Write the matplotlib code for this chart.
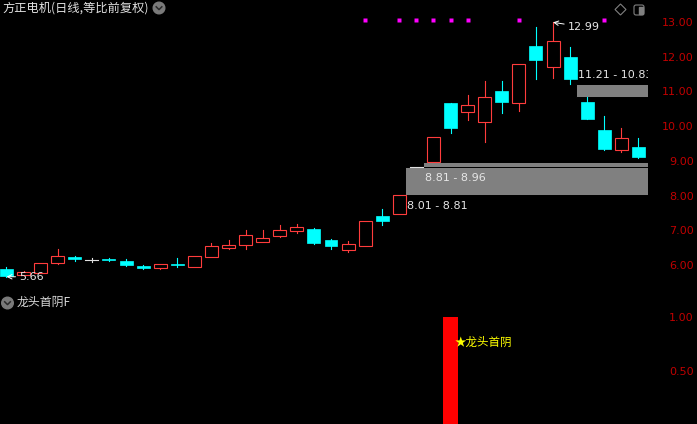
import matplotlib
matplotlib.use('agg')
import matplotlib.pyplot as plt
import matplotlib.transforms as mtransforms
from matplotlib.patches import Rectangle, Circle, Polygon, FancyBboxPatch

plt.rcParams['font.family'] = ['Noto Sans CJK SC', 'DejaVu Sans']

# daily bars (前复权)
opens  = [5.87, 5.72, 5.78, 6.05, 6.23, 6.13, 6.16, 6.11, 5.97, 5.90,
          6.02, 5.95, 6.24, 6.50, 6.57, 6.67, 6.84, 6.99, 7.03, 6.72,
          6.43, 6.55, 7.41, 7.46, 8.81, 8.96, 10.66, 10.41, 10.13, 11.01,
          10.67, 12.31, 11.69, 11.99, 10.69, 9.89, 9.31, 9.40]
highs  = [5.93, 5.82, 6.05, 6.45, 6.26, 6.21, 6.20, 6.17, 6.01, 6.03,
          6.20, 6.26, 6.62, 6.72, 7.01, 7.01, 7.15, 7.18, 7.06, 6.76,
          6.69, 7.27, 7.61, 8.01, 8.81, 9.68, 10.66, 10.90, 11.30, 11.30,
          11.78, 12.86, 12.99, 12.29, 10.83, 10.29, 9.95, 9.65]
lows   = [5.66, 5.72, 5.76, 6.02, 6.12, 6.08, 6.12, 5.98, 5.87, 5.89,
          5.95, 5.95, 6.24, 6.47, 6.46, 6.67, 6.81, 6.92, 6.59, 6.46,
          6.37, 6.55, 7.16, 7.46, 8.81, 8.96, 9.81, 10.18, 9.55, 10.39,
          10.44, 11.37, 11.39, 11.21, 10.21, 9.31, 9.26, 9.08]
closes = [5.69, 5.79, 6.05, 6.26, 6.17, 6.13, 6.15, 6.00, 5.91, 6.03,
          6.01, 6.26, 6.54, 6.57, 6.86, 6.77, 7.01, 7.09, 6.64, 6.55,
          6.60, 7.27, 7.27, 8.01, 8.81, 9.68, 9.95, 10.60, 10.83, 10.69,
          11.78, 11.90, 12.44, 11.37, 10.21, 9.34, 9.65, 9.11]

# 缺口
gap_days   = [23, 24, 33]
gap_lows   = [8.01, 8.81, 10.83]
gap_highs  = [8.81, 8.96, 11.21]
gap_labels = ['8.01 - 8.81', '8.81 - 8.96', '11.21 - 10.83']
gap_up     = [True, True, False]

dot_days = [21, 23, 24, 25, 26, 27, 30, 35]   # 顶部标记点

signal_days = [26]      # 龙头首阴
signal_vals = [1.0]

price_ticks = [6, 7, 8, 9, 10, 11, 12, 13]
signal_ticks = [0.5, 1.0]

W, H = 697, 424
RED = '#ff3c3c'
CYAN = '#00ffff'
AXIS_RED = '#c00000'
TXT = '#e6e6e6'


def px_rect(x0, y0, x1, y1):
    return [x0 / W, 1 - y1 / H, (x1 - x0) / W, (y1 - y0) / H]


fig = plt.figure(figsize=(W / 100, H / 100), dpi=100, facecolor='black')
ax = fig.add_axes(px_rect(0, 14, 648, 290))
ax2 = fig.add_axes(px_rect(0, 296, 648, 424))

for a in (ax, ax2):
    a.set_facecolor('black')
    for s in a.spines.values():
        s.set_visible(False)
    a.set_xticks([])
    a.set_xlim(-0.38, 37.56)
    a.yaxis.tick_right()
    a.tick_params(axis='y', length=0, pad=33, labelsize=8, labelcolor=AXIS_RED)

ax.set_ylim(5.279, 13.23)
ax2.set_ylim(0, 1.2)

ax.set_yticks(price_ticks)
ax.set_yticklabels(['%.2f' % v for v in price_ticks], family='DejaVu Sans')
ax2.set_yticks(signal_ticks)
ax2.set_yticklabels(['%.2f' % v for v in signal_ticks], family='DejaVu Sans')
for a in (ax, ax2):
    for lab in a.get_yticklabels():
        lab.set_horizontalalignment('right')

# candles
bw = 0.76
for i, (o, h, l, c) in enumerate(zip(opens, highs, lows, closes)):
    if c > o:
        ax.plot([i, i], [c, h], color=RED, lw=0.8, zorder=3)
        ax.plot([i, i], [l, o], color=RED, lw=0.8, zorder=3)
        ax.add_patch(Rectangle((i - bw / 2, o), bw, c - o, facecolor='black',
                               edgecolor=RED, lw=0.8, zorder=3))
    elif c < o:
        ax.plot([i, i], [l, h], color=CYAN, lw=0.8, zorder=3)
        ax.add_patch(Rectangle((i - bw / 2, c), bw, o - c, facecolor=CYAN,
                               edgecolor=CYAN, lw=0.5, zorder=3))
    else:
        ax.plot([i, i], [l, h], color='#e0e0e0', lw=0.8, zorder=3)
        ax.plot([i - bw / 2, i + bw / 2], [o, o], color='#e0e0e0', lw=0.8, zorder=4)

# gaps
for d, lo, hi, lab, up in zip(gap_days, gap_lows, gap_highs, gap_labels, gap_up):
    ax.add_patch(Rectangle((d + 0.36, lo), 40, hi - lo, facecolor='#808080',
                           edgecolor='black', lw=0.7, zorder=2))
    if up:
        tr = mtransforms.offset_copy(ax.transData, fig=fig, x=2, y=-11, units='dots')
        ax.text(d + 0.36, lo, lab, transform=tr, color=TXT, fontsize=8,
                family='DejaVu Sans', va='center', ha='left', zorder=5, clip_on=True)
    else:
        tr = mtransforms.offset_copy(ax.transData, fig=fig, x=2, y=9, units='dots')
        ax.text(d + 0.36, hi, lab, transform=tr, color=TXT, fontsize=8,
                family='DejaVu Sans', va='center', ha='left', zorder=5, clip_on=True)

# high / low marks
hi_i = highs.index(max(highs))
lo_i = lows.index(min(lows))
ax.annotate('%.2f' % highs[hi_i], xy=(hi_i, highs[hi_i]), xytext=(11, -3.5),
            textcoords='offset points', color=TXT, fontsize=8, family='DejaVu Sans',
            va='center', ha='left',
            arrowprops=dict(arrowstyle='->', color='white', lw=0.7,
                            shrinkA=1, shrinkB=0))
ax.annotate('%.2f' % lows[lo_i], xy=(lo_i, lows[lo_i]), xytext=(9.5, 0),
            textcoords='offset points', color=TXT, fontsize=8, family='DejaVu Sans',
            va='center', ha='left',
            arrowprops=dict(arrowstyle='->', color='white', lw=0.7,
                            shrinkA=1, shrinkB=0))

# top dots
ax.plot(dot_days, [0.978] * len(dot_days), 's', color='#ff00ff', ms=2.2,
        mec='none', transform=ax.get_xaxis_transform(), clip_on=False)

# indicator panel
ax2.bar(signal_days, signal_vals, width=0.86, color='#ff0000', zorder=2)
for d, v in zip(signal_days, signal_vals):
    ax2.text(d + 0.26, v * 0.77, '★龙头首阴', color='#ffff00', fontsize=8.3,
             va='center', ha='left', zorder=3)

# header decorations (pixel coords)
deco = fig.add_axes([0, 0, 1, 1])
deco.set_xlim(0, W)
deco.set_ylim(H, 0)
deco.axis('off')
deco.patch.set_visible(False)

deco.text(2, 8.5, '方正电机(日线,等比前复权)', color='#e0e0e0', fontsize=8.8,
          va='center', ha='left')
deco.text(17, 302.5, '龙头首阴F', color='#d8d8d8', fontsize=8.6,
          va='center', ha='left')

for cx, cy in [(159, 8), (7.5, 303)]:
    deco.add_patch(Circle((cx, cy), 5.8, color='#7a7a7a'))
    deco.plot([cx - 2.8, cx, cx + 2.8], [cy - 1.2, cy + 1.6, cy - 1.2],
              color='#2a2a2a', lw=1.1)

deco.add_patch(Polygon([(620.5, 4), (626, 9.5), (620.5, 15), (615, 9.5)],
                       closed=True, fill=False, edgecolor='#808080', lw=0.8))
deco.add_patch(FancyBboxPatch((634, 5), 10, 10, boxstyle='round,pad=0,rounding_size=2',
                              fill=False, edgecolor='#808080', lw=0.8))
deco.add_patch(Rectangle((638.5, 6.5), 4, 7, color='#808080'))

fig.savefig('out.png', dpi=100, facecolor='black')
